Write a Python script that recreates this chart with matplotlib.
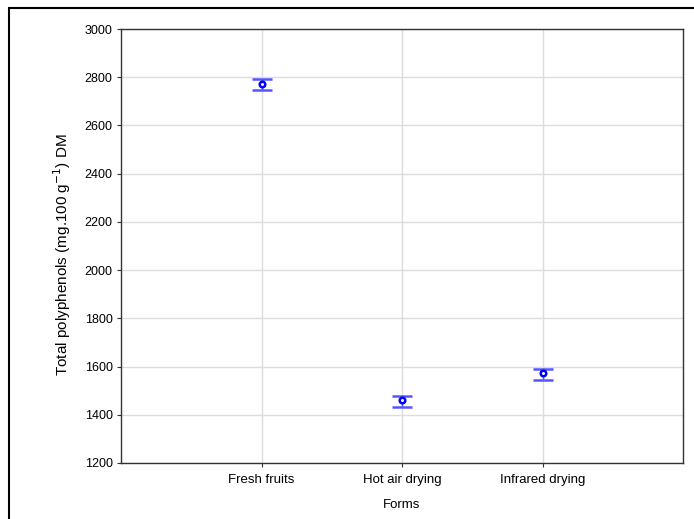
import matplotlib
matplotlib.use("Agg")
import matplotlib.pyplot as plt
from matplotlib.patches import Rectangle

categories = ["Fresh fruits", "Hot air drying", "Infrared drying"]
means = [2772, 1461, 1575]
err_low = [2747, 1432, 1546]
err_high = [2791, 1478, 1591]
yticks = [1200, 1400, 1600, 1800, 2000, 2200, 2400, 2600, 2800, 3000]

plt.rcParams['font.family'] = ['Liberation Sans', 'DejaVu Sans']

fig = plt.figure(figsize=(6.94, 5.19), dpi=100)
ax = fig.add_axes([121/694, 1 - 463/519, (683-121)/694, (463-29)/519])

x = list(range(1, len(categories) + 1))
yerr = [[m - l for m, l in zip(means, err_low)], [h - m for m, h in zip(means, err_high)]]
ax.errorbar(x, means, yerr=yerr, fmt='o', color='#0000ff', ecolor='#5555ff',
            markersize=4, markerfacecolor='white', markeredgewidth=1.8,
            capsize=7.5, capthick=1.0, elinewidth=1.0, zorder=3)

ax.set_xlim(0, len(categories) + 1)
ax.set_ylim(1200, 3000)
ax.set_xticks(x)
ax.set_xticklabels(categories)
ax.set_yticks(yticks)
ax.tick_params(axis='x', length=3, direction='out', labelsize=9.5, pad=5, color='#333333')
ax.tick_params(axis='y', length=3, direction='out', labelsize=9, pad=3, color='#333333')
ax.grid(True, color='#dcdcdc', linewidth=1)
ax.set_axisbelow(True)
for s in ax.spines.values():
    s.set_color('#333333')
    s.set_linewidth(1)

ax.set_xlabel("Forms", fontsize=9.5)
ax.xaxis.set_label_coords(0.5, -(505 - 463) / 434, transform=ax.transAxes)
ax.xaxis.label.set_verticalalignment('center')
ax.set_ylabel("Total polyphenols (mg.100 g$^{-1}$) DM", fontsize=11)
ax.yaxis.set_label_coords((62 - 121) / 562, (463 - 255) / 434)
ax.yaxis.label.set_verticalalignment('center')

fig.patches.append(Rectangle((9/694, -0.1), 1.2, 1 - 8/519 + 0.1, transform=fig.transFigure,
                             fill=False, edgecolor='black', linewidth=1.5))

fig.savefig("out.png", dpi=100)
